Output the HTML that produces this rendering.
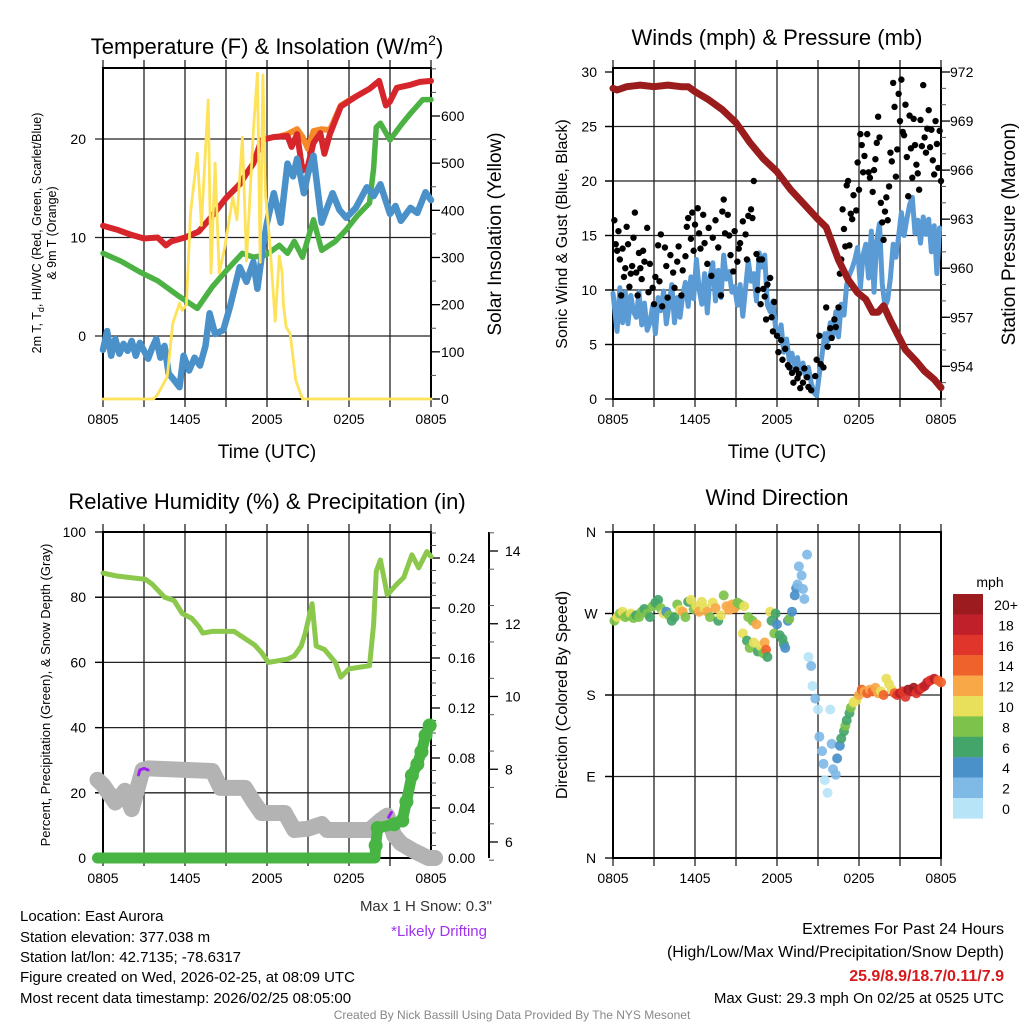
<!DOCTYPE html>
<html><head><meta charset="utf-8"><title>Mesonet Station Summary</title>
<style>
html,body{margin:0;padding:0;background:#fff;}
svg{display:block;font-family:"Liberation Sans",Arial,sans-serif;}
</style></head>
<body>
<svg id="chart" width="1024" height="1024" viewBox="0 0 1024 1024" xmlns="http://www.w3.org/2000/svg">
<rect width="1024" height="1024" fill="#fff"/>
<text x="267" y="54" font-size="22" text-anchor="middle">Temperature (F) &amp; Insolation (W/m<tspan font-size="14" dy="-9">2</tspan><tspan dy="9">)</tspan></text>
<text x="777" y="45" font-size="22" text-anchor="middle">Winds (mph) &amp; Pressure (mb)</text>
<text x="267" y="509" font-size="22" text-anchor="middle">Relative Humidity (%) &amp; Precipitation (in)</text>
<text x="777" y="505" font-size="22" text-anchor="middle">Wind Direction</text>
<text x="267" y="458" font-size="19" text-anchor="middle">Time (UTC)</text>
<text x="777" y="458" font-size="19" text-anchor="middle">Time (UTC)</text>
<text transform="translate(41,233) rotate(-90)" font-size="12.5" text-anchor="middle">2m T, T<tspan font-size="9" dy="3">d</tspan><tspan dy="-3">, HI/WC (Red, Green, Scarlet/Blue)</tspan></text>
<text transform="translate(56,233) rotate(-90)" font-size="12.5" text-anchor="middle">&amp; 9m T (Orange)</text>
<text transform="translate(501,234) rotate(-90)" font-size="19" text-anchor="middle">Solar Insolation (Yellow)</text>
<text transform="translate(567,234) rotate(-90)" font-size="16" text-anchor="middle">Sonic Wind &amp; Gust (Blue, Black)</text>
<text transform="translate(1015,234) rotate(-90)" font-size="19" text-anchor="middle">Station Pressure (Maroon)</text>
<text transform="translate(50,695) rotate(-90)" font-size="13" text-anchor="middle">Percent, Precipitation (Green), &amp; Snow Depth (Gray)</text>
<text transform="translate(567,695) rotate(-90)" font-size="16" text-anchor="middle">Direction (Colored By Speed)</text>
<g font-size="15" fill="#000">
<text x="20" y="921">Location: East Aurora</text>
<text x="20" y="942">Station elevation: 377.038 m</text>
<text x="20" y="962">Station lat/lon: 42.7135; -78.6317</text>
<text x="20" y="982">Figure created on Wed, 2026-02-25, at 08:09 UTC</text>
<text x="20" y="1003">Most recent data timestamp: 2026/02/25 08:05:00</text>
</g>
<text x="492" y="911" font-size="15" fill="#333" text-anchor="end">Max 1 H Snow: 0.3"</text>
<text x="487" y="936" font-size="15" fill="#a033ee" text-anchor="end">*Likely Drifting</text>
<text x="1004" y="934" font-size="16" text-anchor="end">Extremes For Past 24 Hours</text>
<text x="1004" y="957" font-size="16" text-anchor="end">(High/Low/Max Wind/Precipitation/Snow Depth)</text>
<text x="1004" y="981" font-size="16" font-weight="bold" fill="#d7191c" text-anchor="end">25.9/8.9/18.7/0.11/7.9</text>
<text x="1004" y="1003" font-size="15" text-anchor="end">Max Gust: 29.3 mph On 02/25 at 0525 UTC</text>
<text x="512" y="1019" font-size="12" fill="#888" text-anchor="middle">Created By Nick Bassill Using Data Provided By The NYS Mesonet</text>
<g id="layer"></g>
</svg>
<script>
// ---------- DATA ----------
const timeTickLabels = ["0805","1405","2005","0205","0805"];
const tempTicks = [0,10,20];
const solarTicks = [0,100,200,300,400,500,600];
const windTicks = [0,5,10,15,20,25,30];
const pressureTicks = [954,957,960,963,966,969,972];
const rhTicks = [0,20,40,60,80,100];
const precipTicks = ["0.00","0.04","0.08","0.12","0.16","0.20","0.24"];
const snowTicks = [6,8,10,12,14];
const dirTickLabels = ["N","E","S","W","N"];
const speedBins = ["0","2","4","6","8","10","12","14","16","18","20+"];
const speedColors = ["#b8e4f8","#7fbae6","#4a90c9","#44a56a","#7dc24a","#e8e05a","#f9a848","#f0622b","#e0352a","#c0202a","#9b1b1e"];

const tempRed = [[0,11.2],[1,10.8],[2,10.3],[3,9.9],[4,10],[4.6,9.2],[5,9.6],[6,10.0],[7,10.6],[8,12.2],[9,14.0],[10,15.4],[10.5,16.5],[11,17.5],[11.6,19.9],[12.5,20.2],[13.5,20.3],[13.8,19.2],[14.2,20.5],[14.6,16.8],[15,17.3],[15.4,19.6],[15.9,20.6],[16.2,18.5],[16.6,20.5],[17.4,23.3],[18.5,24.3],[19.5,25.1],[20.2,25.9],[20.7,23.4],[21,23.8],[21.5,25.2],[22.5,25.5],[23.2,25.8],[24,25.9]];
const tempOrange = [[13.0,20.3],[13.5,20.5],[14.2,21.0],[14.6,20.2],[15,19.0],[15.4,20.8],[16,21.0],[16.6,20.9],[17.4,23.4],[18.5,24.3]];
const tempGreen = [[0,8.4],[1.3,7.6],[2.7,6.5],[4,5.6],[5.6,4.0],[6.9,2.8],[8.0,5.0],[9,6.6],[10.2,8.4],[11,8.0],[11.9,8.2],[12.9,9.2],[13.5,8.4],[14,9.6],[14.6,8.0],[15.4,11.8],[16,8.7],[17,9.6],[17.8,10.8],[18.6,12.2],[19.5,13.5],[19.8,17],[20.0,21.2],[20.3,21.6],[21,19.9],[21.8,21.4],[22.5,22.6],[23.4,24.0],[24,24.0]];
const tempBlue = [[0,-1.4],[0.3,0.5],[0.6,-2],[0.9,-0.3],[1.2,-1.8],[1.5,-0.8],[1.8,-1.5],[2.1,-0.5],[2.4,-2],[2.7,-0.7],[3.0,-1.5],[3.3,-2.3],[3.6,-1.2],[3.9,-0.3],[4.2,-2.2],[4.5,-1.0],[4.8,-3.8],[5.1,-4.3],[5.6,-5.2],[5.9,-2],[6.3,-3.5],[6.7,-2.2],[7.1,-3.0],[7.5,-1],[7.8,2.3],[8.2,0.2],[8.8,0.6],[9.3,3.0],[10,7.0],[10.5,5.5],[11,7.5],[11.3,4.8],[11.7,9.0],[12,11.5],[12.5,14.5],[13,11.5],[13.5,17.5],[13.9,16.2],[14.2,18.0],[14.7,14.5],[15.0,16.5],[15.4,18.3],[16,11.5],[16.4,13],[16.8,14.5],[17.3,12.8],[17.8,12.0],[18.5,13.0],[19.3,15.1],[19.8,14.2],[20.3,15.4],[21,12.4],[21.4,13.2],[21.8,11.7],[22.5,13.0],[23,12.5],[23.6,14.6],[24,13.8]];
const solar = [[0,0],[3.7,0],[4.0,10],[4.7,47],[5.1,160],[5.6,203],[5.8,188],[6.1,200],[6.4,394],[6.9,521],[7.2,368],[7.7,634],[7.9,267],[8.2,500],[8.5,267],[8.9,320],[9.5,428],[9.8,380],[10.2,555],[10.5,293],[10.7,400],[11.0,566],[11.3,691],[11.5,290],[11.7,687],[11.9,430],[12.2,334],[12.6,165],[12.9,303],[13.1,270],[13.2,200],[13.4,153],[13.7,138],[14.1,40],[14.6,0],[24,0]];

const windSonic = [[0,9.7],[0.3,6.2],[0.5,10.2],[0.7,7.0],[0.9,9.8],[1.1,6.9],[1.3,9.5],[1.5,8.0],[1.7,7.5],[1.9,9.8],[2.1,6.8],[2.3,8.8],[2.5,6.3],[2.7,7.0],[2.9,8.5],[3.1,6.0],[3.3,9.3],[3.5,8.1],[3.7,9.9],[3.9,6.9],[4.1,8.6],[4.3,10.5],[4.5,7.0],[4.7,9.3],[4.9,7.5],[5.1,9.5],[5.3,10.7],[5.5,8.5],[5.7,11.2],[5.9,9.2],[6.1,12.8],[6.3,10.1],[6.5,8.7],[6.7,11.5],[6.9,7.9],[7.1,11.2],[7.3,12.5],[7.5,9.0],[7.7,11.8],[7.9,9.3],[8.1,13.2],[8.3,11.0],[8.5,11.7],[8.7,9.8],[8.9,10.3],[9.1,8.6],[9.3,10.5],[9.5,7.6],[9.7,10.2],[9.9,12.7],[10.1,10.8],[10.3,11.5],[10.5,9.0],[10.7,13.4],[10.9,12.1],[11.1,13.2],[11.3,8.6],[11.5,8.0],[11.7,9.0],[11.9,6.5],[12.1,5.6],[12.3,6.8],[12.5,4.3],[12.7,5.5],[12.9,3.5],[13.1,4.2],[13.3,2.7],[13.5,3.8],[13.7,2.4],[13.9,3.3],[14.1,2.0],[14.3,2.9],[14.5,1.5],[14.7,0.6],[14.9,0.3],[15.1,2.3],[15.3,4.1],[15.5,6.0],[15.7,5.3],[15.9,7.0],[16.1,5.8],[16.3,8.0],[16.5,5.7],[16.7,8.7],[16.9,7.7],[17.1,10.5],[17.3,11.4],[17.5,12.0],[17.7,12.8],[17.9,13.9],[18.1,10.2],[18.3,13.2],[18.5,14.2],[18.7,11.1],[18.9,15.4],[19.1,9.8],[19.3,14.5],[19.5,16.1],[19.7,10.6],[19.9,8.5],[20.1,9.1],[20.3,11.1],[20.5,14.2],[20.7,13.0],[20.9,14.9],[21.1,17.1],[21.3,15.0],[21.5,16.5],[21.7,17.8],[21.9,18.5],[22.1,15.2],[22.3,16.4],[22.5,14.3],[22.7,16.7],[22.9,15.1],[23.1,16.5],[23.3,13.5],[23.5,15.9],[23.7,11.5],[23.9,15.7]];
const windGust = [[0.1,16.4],[0.2,14.2],[0.3,13.6],[0.4,15.4],[0.5,12.8],[0.6,9.5],[0.7,13.8],[0.8,11.2],[0.9,12.0],[1.0,15.8],[1.1,14.2],[1.2,10.3],[1.3,11.5],[1.4,12.2],[1.5,14.8],[1.6,17.1],[1.7,11.6],[1.8,9.5],[1.9,13.4],[2.0,12.0],[2.1,11.0],[2.2,13.6],[2.3,12.6],[2.5,15.7],[2.6,9.8],[2.7,12.4],[2.9,10.2],[3.0,8.7],[3.1,11.2],[3.3,14.1],[3.4,10.8],[3.5,15.1],[3.6,8.5],[3.8,13.9],[3.9,12.2],[4.0,9.3],[4.2,13.2],[4.4,11.6],[4.5,10.2],[4.7,12.6],[4.8,14.0],[5.0,9.5],[5.1,11.8],[5.3,13.1],[5.4,15.8],[5.5,16.6],[5.7,14.7],[5.8,17.1],[5.9,13.6],[6.0,16.0],[6.2,17.5],[6.3,15.2],[6.4,13.8],[6.6,16.9],[6.7,14.3],[6.9,12.4],[7.0,15.7],[7.2,11.3],[7.3,14.8],[7.5,16.4],[7.7,13.9],[7.9,9.5],[8.0,17.2],[8.1,18.3],[8.2,15.2],[8.4,16.9],[8.5,15.0],[8.6,13.2],[8.8,11.7],[8.9,15.4],[9.1,12.6],[9.2,13.8],[9.3,14.3],[9.5,16.3],[9.7,15.1],[9.8,12.8],[9.9,16.8],[10.1,17.4],[10.2,16.6],[10.3,20.0],[10.5,13.3],[10.6,10.0],[10.7,12.8],[10.8,8.7],[10.9,12.8],[11.0,10.1],[11.1,9.4],[11.2,7.3],[11.3,10.5],[11.5,11.1],[11.6,7.5],[11.7,6.2],[11.8,8.9],[12.0,5.8],[12.1,4.3],[12.3,5.4],[12.4,3.6],[12.6,4.6],[12.8,3.1],[12.9,2.9],[13.1,2.4],[13.2,1.5],[13.4,2.7],[13.5,1.9],[13.6,2.3],[13.7,1.0],[13.9,1.5],[14.0,2.8],[14.2,2.0],[14.3,1.1],[14.5,0.8],[14.8,2.1],[14.9,3.6],[15.1,5.8],[15.2,3.2],[15.4,2.9],[15.6,8.4],[15.7,4.8],[15.9,6.5],[16.0,5.6],[16.2,7.3],[16.3,6.6],[16.5,8.4],[16.6,11.5],[16.7,12.8],[16.8,17.4],[16.9,15.6],[17.0,14.0],[17.1,19.6],[17.2,20.0],[17.3,14.1],[17.4,17.0],[17.5,16.5],[17.6,18.7],[17.8,17.3],[17.9,21.7],[18.0,19.2],[18.1,24.3],[18.2,23.3],[18.3,20.8],[18.4,22.3],[18.6,24.3],[18.7,20.8],[18.8,20.3],[19.0,19.0],[19.1,21.0],[19.2,22.0],[19.3,23.5],[19.4,25.9],[19.5,24.0],[19.6,18.0],[19.7,16.2],[19.8,14.6],[19.9,17.2],[20.0,18.5],[20.1,16.4],[20.2,19.5],[20.3,22.6],[20.4,21.8],[20.5,29.0],[20.6,26.8],[20.7,20.4],[20.8,22.9],[20.9,28.0],[21.0,25.5],[21.1,29.3],[21.2,24.5],[21.3,24.2],[21.4,27.0],[21.5,22.2],[21.6,18.6],[21.7,26.0],[21.8,23.0],[21.9,20.3],[22.0,25.7],[22.1,23.3],[22.2,21.5],[22.3,20.7],[22.4,19.2],[22.5,25.6],[22.6,23.2],[22.7,28.8],[22.8,24.0],[22.9,22.6],[23.0,24.8],[23.1,26.5],[23.2,23.1],[23.3,24.7],[23.4,21.9],[23.5,20.6],[23.6,25.5],[23.7,23.4],[23.8,21.2],[23.9,24.6],[24.0,20.0]];
const pressure = [[0,971.0],[0.3,970.9],[1,971.1],[2,971.2],[3,971.1],[4,971.2],[5,971.1],[5.5,971.1],[6,970.8],[7,970.3],[8,969.7],[9,968.9],[10,967.7],[11,966.7],[12,965.9],[13,964.8],[14,963.9],[15,963.0],[15.6,962.5],[16.5,960.5],[17.2,959.3],[17.9,958.5],[18.5,958.1],[19.0,957.3],[19.4,957.3],[19.8,957.7],[20.3,956.8],[21.4,955.0],[22.2,954.3],[22.8,953.7],[23.5,953.2],[24,952.7]];

const rhData = [[0,87.4],[1,86.5],[2,86],[3.1,85.5],[3.6,84],[4.5,80],[5.2,79],[5.8,75],[6.5,73.5],[7,71],[7.3,69],[8,69.5],[9.6,69.5],[10.5,67],[11.1,65.3],[11.6,63],[12.1,60],[12.8,60.5],[13.5,61],[14,62],[14.5,65],[14.8,69],[15.3,78],[15.6,65],[16.2,64],[17,60],[17.4,55.5],[18,58],[19.5,59],[19.8,71.5],[20.0,88],[20.3,91.4],[20.8,80.7],[21.5,84],[22,86],[22.6,93],[23.1,89],[23.7,94],[24,92.5]];
const snowPct = [[-0.4,24],[0,22.4],[0.9,17],[1.6,20.6],[2.1,15],[2.9,27],[3.3,27.5],[8.0,26.7],[8.6,21.5],[10.4,21.5],[11,17.4],[11.6,13.8],[13.3,13.8],[14,8.6],[15,9.0],[16,10.4],[16.4,8.6],[19.5,8.6],[20.3,11.5],[20.8,13],[21.3,7],[21.8,4.5],[22.6,2.5],[23.8,0],[24.3,0]];
const precip = [[-0.4,0],[19.9,0],[19.95,0.01],[20.1,0.024],[21.3,0.027],[21.9,0.03],[22.2,0.045],[22.6,0.066],[23.0,0.075],[23.3,0.085],[23.6,0.098],[23.9,0.106]];
const drifting1 = [[2.6,25.5],[2.7,27],[3.0,27.5],[3.3,27]];
const drifting2 = [[20.9,12.5],[21.1,14]];

const dirData = [[0.1,262,9],[0.3,266,10],[0.5,270,8],[0.7,272,10],[0.9,266,8],[1.1,268,9],[1.3,270,10],[1.5,265,8],[1.7,268,7],[1.9,266,8],[2.1,272,9],[2.3,275,6],[2.5,270,8],[2.7,266,7],[2.9,278,8],[3.1,282,7],[3.3,285,6],[3.5,276,8],[3.7,270,10],[3.9,272,5],[4.1,268,8],[4.3,262,6],[4.5,266,7],[4.7,280,8],[4.9,274,10],[5.1,272,12],[5.3,266,9],[5.5,283,6],[5.7,285,10],[5.9,275,8],[6.1,278,10],[6.3,272,12],[6.5,283,10],[6.7,276,10],[6.9,272,12],[7.1,266,8],[7.3,282,10],[7.5,276,12],[7.7,262,6],[7.9,268,11],[8.1,290,8],[8.3,278,12],[8.5,274,13],[8.7,280,13],[8.9,276,12],[9.1,282,9],[9.3,280,8],[9.5,248,10],[9.6,278,11],[9.8,240,7],[9.9,266,8],[10.0,232,9],[10.2,262,8],[10.3,238,11],[10.5,258,13],[10.6,228,7],[10.8,234,10],[11.0,226,8],[11.1,238,12],[11.2,230,14],[11.3,222,7],[11.5,272,11],[11.6,262,6],[11.8,248,8],[11.9,270,6],[12.0,258,5],[12.2,246,6],[12.4,242,6],[12.5,236,6],[12.6,232,5],[12.8,262,4],[12.9,264,8],[13.1,272,4],[13.3,290,4],[13.4,298,4],[13.5,302,3],[13.6,322,3],[13.8,312,2],[13.9,297,3],[14.0,286,2],[14.2,335,2],[14.3,222,1],[14.5,212,2],[14.6,190,1],[14.8,176,2],[15.0,164,1],[15.1,134,2],[15.3,118,2],[15.4,104,2],[15.5,86,1],[15.7,72,1],[15.9,164,1],[16.0,126,2],[16.1,98,2],[16.3,92,2],[16.4,110,4],[16.6,124,4],[16.7,132,6],[16.9,140,6],[17.0,146,8],[17.1,152,6],[17.3,160,6],[17.4,166,8],[17.6,172,10],[17.8,174,10],[18.0,180,12],[18.2,186,14],[18.4,184,13],[18.6,182,14],[18.8,186,12],[19.0,184,14],[19.2,188,12],[19.4,182,13],[19.6,184,10],[19.8,180,14],[20.0,198,10],[20.2,192,10],[20.4,186,10],[20.6,182,14],[20.8,180,16],[21.0,182,18],[21.2,184,17],[21.4,178,16],[21.6,186,20],[21.8,184,18],[22.0,188,20],[22.2,182,16],[22.4,186,18],[22.6,188,16],[22.8,190,18],[23.0,194,18],[23.2,196,16],[23.5,198,18],[23.8,196,15],[24.0,194,14]];

// ---------- RENDER ----------
const NS = "http://www.w3.org/2000/svg";
const layer = document.getElementById("layer");
function mk(tag, attrs, parent) {
  const e = document.createElementNS(NS, tag);
  for (const k in attrs) e.setAttribute(k, attrs[k]);
  (parent || layer).appendChild(e);
  return e;
}
function linScale(d0, d1, r0, r1) { return v => r0 + (v - d0) * (r1 - r0) / (d1 - d0); }
function pathFrom(arr, sx, sy) { return arr.map((p, i) => (i ? "L" : "M") + sx(p[0]).toFixed(1) + "," + sy(p[1]).toFixed(1)).join(""); }

function frame(px, name, gridYVals, sy, xLabels) {
  const g = mk("g", {});
  
  
  const sx = linScale(0, 24, px.x0, px.x1);
  for (let h = 0; h <= 24; h += 3) {
    const l = mk("line", {x1: sx(h), x2: sx(h), y1: px.y0 - 8, y2: px.y1 + 8, stroke: "#222", "stroke-width": 1.3}, g);
    
    
  }
  gridYVals.forEach(v => {
    const l = mk("line", {x1: px.x0 - 8, x2: px.x1, y1: sy(v), y2: sy(v), stroke: "#222", "stroke-width": 1.3}, g);
    
    
  });
  const r = mk("rect", {x: px.x0, y: px.y0, width: px.x1 - px.x0, height: px.y1 - px.y0, fill: "none", stroke: "#000", "stroke-width": 2}, g);
  
  
  if (xLabels) xLabels.forEach((lab, i) => {
    const t = mk("text", {x: sx(i * 6), y: px.y1 + 25, "font-size": 14, "text-anchor": "middle"}, g);
    t.textContent = lab;
    
    
  });
  return sx;
}
function yAxisLabels(vals, sy, x, anchor, name, labels, tickX1, tickX2) {
  vals.forEach((v, i) => {
    const t = mk("text", {x: x, y: sy(v) + 5, "font-size": 14, "text-anchor": anchor});
    t.textContent = labels ? labels[i] : v;
    
    
    if (tickX1 !== undefined) {
      const l = mk("line", {x1: tickX1, x2: tickX2, y1: sy(v), y2: sy(v), stroke: "#000", "stroke-width": 1.3});
      
      
    }
  });
}
function minorTicks(from, to, step, sy, x1, x2, name) {
  for (let v = from; v <= to + 1e-9; v += step) {
    const l = mk("line", {x1: x1, x2: x2, y1: sy(v), y2: sy(v), stroke: "#555", "stroke-width": 1});
    
    
  }
}
function line(arr, sx, sy, color, w, name, clip) {
  const p = mk("path", {d: pathFrom(arr, sx, sy), fill: "none", stroke: color, "stroke-width": w, "stroke-linejoin": "round", "stroke-linecap": "round"});
  if (clip) p.setAttribute("clip-path", clip);
  
  
  return p;
}
const defs = mk("defs", {});
function clipRect(id, px) { const c = mk("clipPath", {id: id}, defs); mk("rect", {x: px.x0 - 6, y: px.y0, width: px.x1 - px.x0 + 12, height: px.y1 - px.y0 + 6}, c); }

// ---- Panel 1 ----
const P1 = {x0: 103, x1: 431, y0: 68, y1: 399};
const sy1 = linScale(0, 10, 336, 237.5);
const syS = linScale(0, 600, 399, 116);
const sx1 = frame(P1, "temperature", tempTicks, sy1, timeTickLabels);
yAxisLabels(tempTicks, sy1, 86, "end", "temperature-y");
minorTicks(0, 700, 50, syS, P1.x1, P1.x1 + 5, "solar-y");
yAxisLabels(solarTicks, syS, 441, "start", "solar-y", null, P1.x1, P1.x1 + 9);
clipRect("c1", P1);
line(tempOrange, sx1, sy1, "#f58a2a", 6, "temp-9m-orange-line");
line(tempRed, sx1, sy1, "#d7262b", 6, "temp-2m-red-line");
line(tempGreen, sx1, sy1, "#4cb243", 5.5, "dewpoint-green-line");
line(tempBlue, sx1, sy1, "#4a90c9", 6.5, "windchill-blue-line");
line(solar, sx1, syS, "#fde25a", 2.8, "solar-insolation-yellow-line", "url(#c1)");

// ---- Panel 2 ----
const P2 = {x0: 613, x1: 941, y0: 68, y1: 399};
const sy2 = linScale(0, 30, 399, 72);
const syP = linScale(954, 972, 366.3, 72);
const sx2 = frame(P2, "winds", [5, 10, 15, 20, 25], sy2, timeTickLabels);
yAxisLabels(windTicks, sy2, 597, "end", "wind-y", null, P2.x0 - 8, P2.x0);
minorTicks(952, 972, 1, syP, P2.x1, P2.x1 + 5, "pressure-y");
yAxisLabels(pressureTicks, syP, 950, "start", "pressure-y", null, P2.x1, P2.x1 + 9);
line(windSonic, sx2, sy2, "#5a9bd5", 5, "sonic-wind-blue-line");
windGust.forEach(p => {
  const c = mk("circle", {cx: sx2(p[0]), cy: sy2(p[1]), r: 3.2, fill: "#000"});
  
  
});
line(pressure, sx2, syP, "#9b1c1c", 7, "station-pressure-maroon-line");

// ---- Panel 3 ----
const P3 = {x0: 103, x1: 431, y0: 532, y1: 858};
const sy3 = linScale(0, 100, 858, 532);
const syPr = linScale(0, 0.24, 858, 558);
const sySn = linScale(6, 14, 842, 551);
const sx3 = frame(P3, "humidity", [20, 40, 60, 80], sy3, timeTickLabels);
yAxisLabels(rhTicks, sy3, 86, "end", "humidity-y", null, P3.x0 - 8, P3.x0);
minorTicks(0, 0.26, 0.01, syPr, P3.x1, P3.x1 + 5, "precip-y");
yAxisLabels(precipTicks.map(Number), syPr, 448, "start", "precip-y", precipTicks, P3.x1, P3.x1 + 9);
const snAxis = mk("line", {x1: 489, x2: 489, y1: 532, y2: 858, stroke: "#000", "stroke-width": 2});


minorTicks(5.5, 14.5, 1, sySn, 489, 494, "snow-depth-y");
yAxisLabels(snowTicks, sySn, 505, "start", "snow-depth-y", null, 489, 498);
line(rhData, sx3, sy3, "#8cc84b", 5, "relative-humidity-line");
line(snowPct, sx3, sy3, "#b3b3b3", 16, "snow-depth-gray-line");
line(drifting1, sx3, sy3, "#a020f0", 3, "likely-drifting-mark");
line(drifting2, sx3, sy3, "#a020f0", 3, "likely-drifting-mark");
line(precip, sx3, syPr, "#48b444", 11, "precipitation-green-line");
precip.slice(2).forEach(p => {
  const c = mk("circle", {cx: sx3(p[0]), cy: syPr(p[1]), r: 7, fill: "#48b444"});
  
  
});

// ---- Panel 4 ----
const P4 = {x0: 613, x1: 941, y0: 532, y1: 858};
const sy4 = linScale(0, 360, 858, 532);
const sx4 = frame(P4, "wind-direction", [90, 180, 270], sy4, timeTickLabels);
yAxisLabels([0, 90, 180, 270, 360], sy4, 591, "middle", "direction-y", dirTickLabels, P4.x0 - 8, P4.x0);
function speedColor(s) { let i = Math.floor(s / 2); if (i > 10) i = 10; if (i < 0) i = 0; return speedColors[i]; }
dirData.forEach(p => {
  const c = mk("circle", {cx: sx4(p[0]), cy: sy4(p[1]), r: 5, fill: speedColor(p[2]), "fill-opacity": 0.92});
  
  
});
const cbTitle = mk("text", {x: 990, y: 587, "font-size": 14, "text-anchor": "middle"});
cbTitle.textContent = "mph";


for (let i = 0; i < speedBins.length; i++) {
  const idx = speedBins.length - 1 - i;
  const y = 594 + i * 20.4;
  const r = mk("rect", {x: 953, y: y, width: 30, height: 20.6, fill: speedColors[idx]});
  
  
  const t = mk("text", {x: 1006, y: y + 16, "font-size": 14, "text-anchor": "middle"});
  t.textContent = speedBins[idx];
  
  
}
</script>
</body></html>
